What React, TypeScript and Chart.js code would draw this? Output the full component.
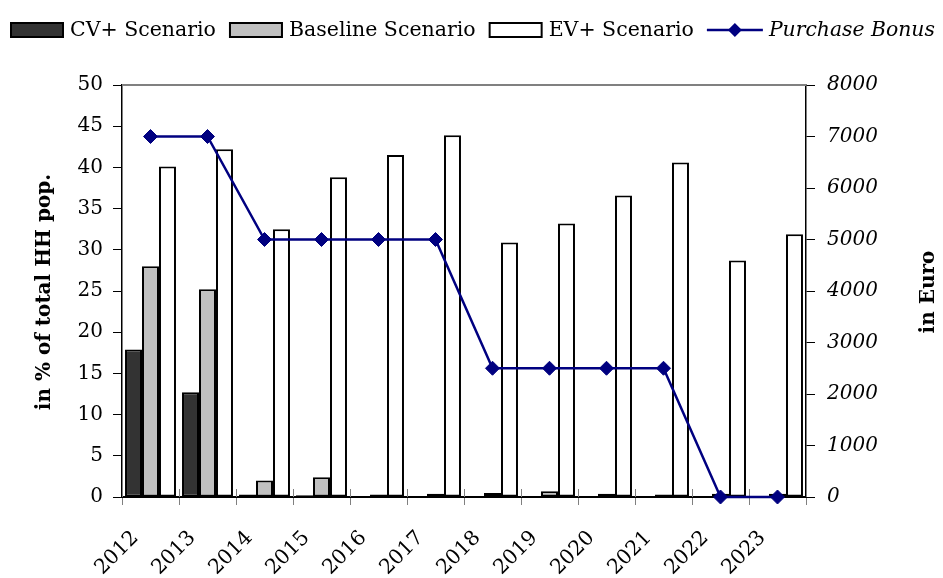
import React, { useEffect, useRef } from 'react';
import { Chart, registerables } from 'chart.js';

Chart.register(...registerables);

const years = ['2012', '2013', '2014', '2015', '2016', '2017', '2018', '2019', '2020', '2021', '2022', '2023'];
const cvPlus = [17.9, 12.7, 0.3, 0.2, 0.1, 0.1, 0.1, 0.1, 0.1, 0.1, 0.1, 0.1];
const baseline = [28.0, 25.2, 2.0, 2.4, 0.3, 0.4, 0.5, 0.7, 0.4, 0.3, 0.4, 0.4];
const evPlus = [40.1, 42.2, 32.5, 38.8, 41.5, 43.9, 30.9, 33.2, 36.6, 40.6, 28.7, 31.9];
const purchaseBonus = [7000, 7000, 5000, 5000, 5000, 5000, 2500, 2500, 2500, 2500, 0, 0];

const leftTitle = 'in % of total HH pop.';
const rightTitle = 'in Euro';

const FONT = "'DejaVu Serif', serif";
const FS = 20;
const LFS = 20.5;

const legendPlugin = {
  id: 'customLegend',
  afterDraw(chart: any) {
    const ctx = chart.ctx as CanvasRenderingContext2D;
    const ds = chart.data.datasets;
    ctx.save();
    const swW = 54, swH = 16, lineW = 56, gapT = 6, gapI = 13;
    const italicMax = 166;
    const fontFor = (d: any) => (d.type === 'line' ? `italic ${LFS}px ${FONT}` : `${LFS}px ${FONT}`);
    let x = 2;
    const cy = 22;
    ds.forEach((d: any) => {
      if (d.type === 'line') {
        ctx.strokeStyle = d.borderColor;
        ctx.lineWidth = 2.5;
        ctx.beginPath();
        ctx.moveTo(x, cy);
        ctx.lineTo(x + lineW, cy);
        ctx.stroke();
        const r = 7;
        const mx = x + lineW / 2;
        ctx.fillStyle = d.pointBackgroundColor;
        ctx.beginPath();
        ctx.moveTo(mx - r, cy);
        ctx.lineTo(mx, cy - r);
        ctx.lineTo(mx + r, cy);
        ctx.lineTo(mx, cy + r);
        ctx.closePath();
        ctx.fill();
        x += lineW + gapT;
      } else {
        ctx.fillStyle = d.backgroundColor;
        ctx.fillRect(x, cy - swH / 2, swW, swH);
        ctx.strokeStyle = '#000';
        ctx.lineWidth = 2;
        ctx.strokeRect(x + 1, cy - swH / 2 + 1, swW - 2, swH - 2);
        x += swW + gapT;
      }
      ctx.font = fontFor(d);
      ctx.fillStyle = '#000';
      ctx.textAlign = 'left';
      ctx.textBaseline = 'middle';
      if (d.type === 'line') {
        ctx.fillText(d.label, x, cy + 1, italicMax);
        x += Math.min(italicMax, ctx.measureText(d.label).width) + gapI;
      } else {
        ctx.fillText(d.label, x, cy + 1);
        x += ctx.measureText(d.label).width + gapI;
      }
    });
    ctx.restore();
  },
};

const decorPlugin = {
  id: 'decor',
  beforeDatasetsDraw(chart: any) {
    const { ctx, chartArea } = chart;
    ctx.save();
    ctx.strokeStyle = '#808080';
    ctx.lineWidth = 2;
    ctx.beginPath();
    ctx.moveTo(chartArea.left, chartArea.top);
    ctx.lineTo(chartArea.right, chartArea.top);
    ctx.stroke();
    const n = chart.data.labels.length;
    const w = (chartArea.right - chartArea.left) / n;
    ctx.strokeStyle = '#808080';
    ctx.lineWidth = 1;
    ctx.beginPath();
    for (let i = 0; i <= n; i++) {
      const x = Math.round(chartArea.left + i * w) + 0.5;
      ctx.moveTo(x, chartArea.bottom - 8);
      ctx.lineTo(x, chartArea.bottom);
    }
    ctx.stroke();
    ctx.restore();
  },
  afterDraw(chart: any) {
    const { ctx, chartArea } = chart;
    ctx.save();
    ctx.font = `bold ${FS}px ${FONT}`;
    ctx.fillStyle = '#000';
    ctx.textAlign = 'center';
    ctx.textBaseline = 'middle';
    const midY = (chartArea.top + chartArea.bottom) / 2;
    ctx.save();
    ctx.translate(37, midY + 1);
    ctx.rotate(-Math.PI / 2);
    ctx.fillText(leftTitle, 0, 0);
    ctx.restore();
    ctx.save();
    ctx.translate(chart.width - 6, midY + 1);
    ctx.rotate(-Math.PI / 2);
    ctx.fillText(rightTitle, 0, 0);
    ctx.restore();
    ctx.restore();
  },
};

export default function App() {
  const ref = useRef<HTMLCanvasElement | null>(null);
  useEffect(() => {
    document.documentElement.style.overflow = 'hidden';
    if (!ref.current) return;
    const barCommon = {
      borderColor: '#000',
      borderWidth: 2,
      borderSkipped: false,
      categoryPercentage: 0.894,
      barPercentage: 1.0,
      yAxisID: 'y',
      order: 1,
    };
    const chart = new Chart(ref.current, {
      type: 'bar',
      data: {
        labels: years,
        datasets: [
          { ...barCommon, type: 'bar', label: 'CV+ Scenario', data: cvPlus, backgroundColor: '#333333' },
          { ...barCommon, type: 'bar', label: 'Baseline Scenario', data: baseline, backgroundColor: '#c0c0c0' },
          { ...barCommon, type: 'bar', label: 'EV+ Scenario', data: evPlus, backgroundColor: '#ffffff' },
          {
            type: 'line',
            label: 'Purchase Bonus',
            data: purchaseBonus,
            yAxisID: 'y2',
            borderColor: '#000080',
            borderWidth: 2.5,
            pointStyle: 'rectRot',
            pointRadius: 7,
            pointBackgroundColor: '#000080',
            pointBorderColor: '#000080',
            pointBorderWidth: 1,
            tension: 0,
            clip: false,
            order: 0,
          },
        ] as any,
      },
      options: {
        animation: false,
        responsive: false,
        layout: { padding: { top: 77, left: 0, right: 0, bottom: 0 } },
        plugins: { legend: { display: false }, tooltip: { enabled: false } },
        scales: {
          x: {
            offset: true,
            grid: { display: true, drawOnChartArea: false, drawTicks: true, tickLength: 8, color: '#808080', offset: true },
            border: { display: true, color: '#000', width: 2 },
            ticks: {
              autoSkip: false,
              minRotation: 45,
              maxRotation: 45,
              padding: 21,
              labelOffset: -15,
              color: '#000',
              font: { family: FONT, size: LFS },
            },
            afterFit: (s: any) => { s.height = 81; },
          },
          y: {
            position: 'left',
            min: 0,
            max: 50,
            ticks: { stepSize: 5, padding: 10, color: '#000', font: { family: FONT, size: FS } },
            grid: { drawOnChartArea: false, drawTicks: true, tickLength: 9, color: '#000' },
            border: { display: true, color: '#000', width: 1.5 },
            afterFit: (s: any) => { s.width = 114; },
          },
          y2: {
            position: 'right',
            min: 0,
            max: 8000,
            ticks: {
              stepSize: 1000,
              padding: 12,
              color: '#000',
              font: { family: FONT, size: FS, style: 'italic' },
              callback: (v: any) => String(v),
            },
            grid: { drawOnChartArea: false, drawTicks: true, tickLength: 9, color: '#000' },
            border: { display: true, color: '#000', width: 1.5 },
            afterFit: (s: any) => { s.width = 129; },
          },
        },
      } as any,
      plugins: [legendPlugin, decorPlugin],
    });
    return () => chart.destroy();
  }, []);
  return <canvas ref={ref} width={927} height={570} style={{ display: 'block' }} />;
}
